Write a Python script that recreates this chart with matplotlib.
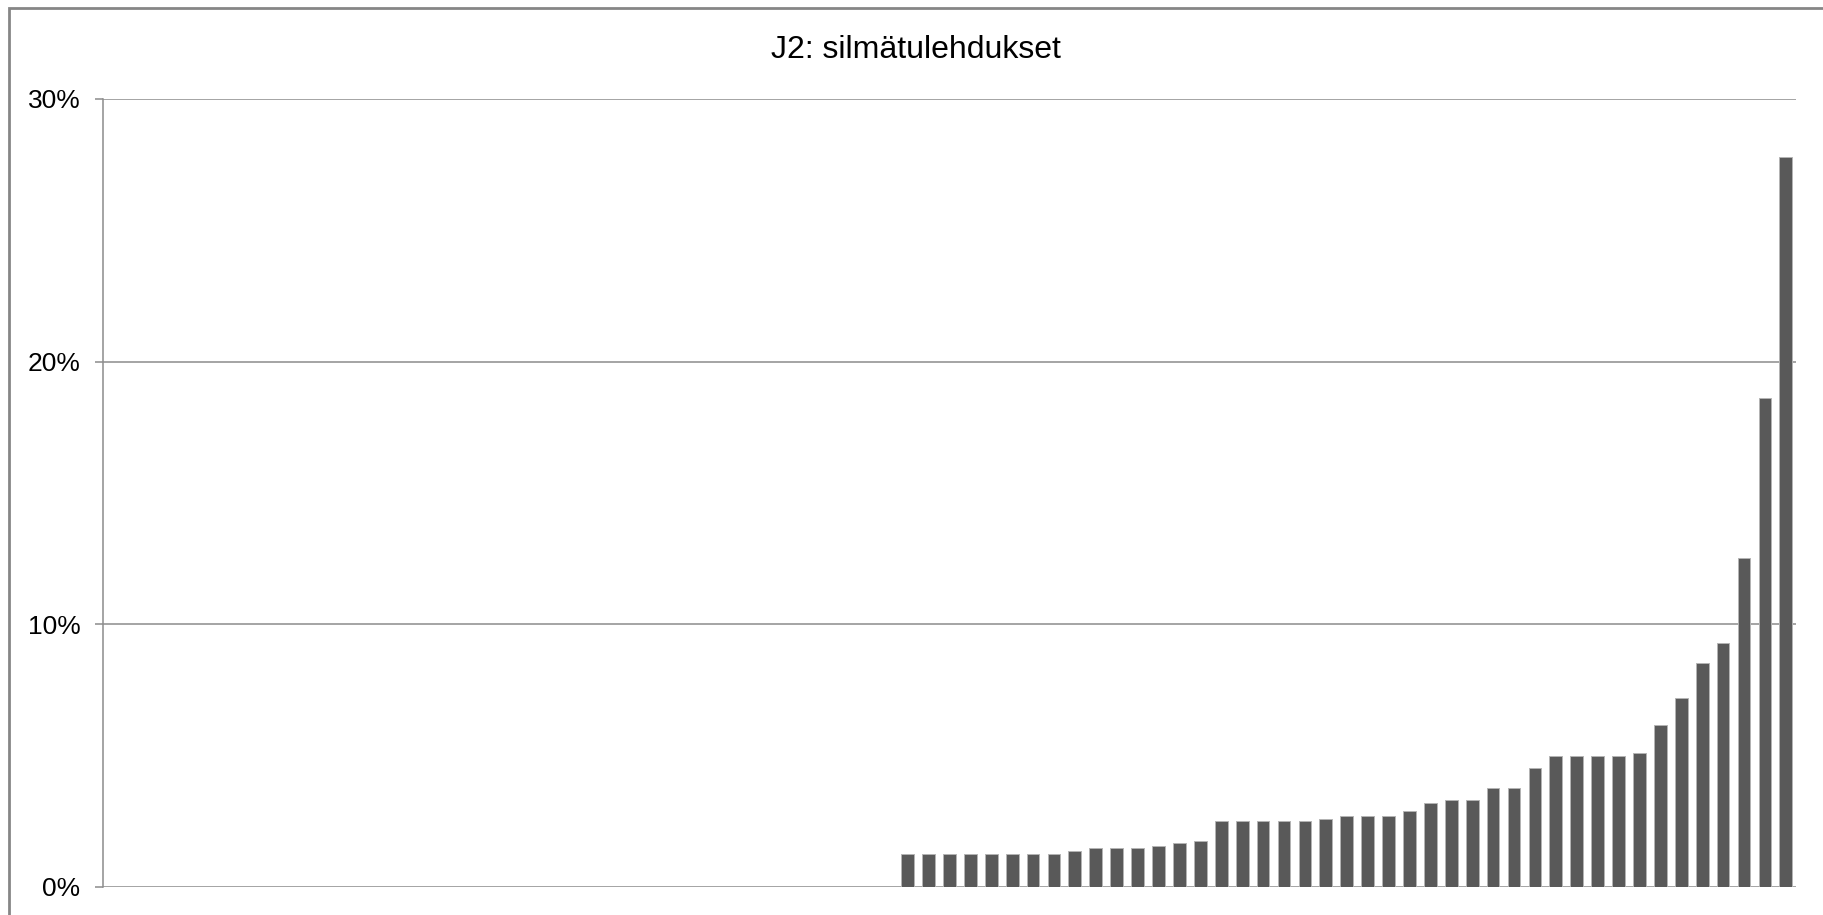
import matplotlib
matplotlib.use("Agg")
import matplotlib.pyplot as plt
from matplotlib.patches import Rectangle
from matplotlib.ticker import FuncFormatter

plt.rcParams['font.family'] = ['Liberation Sans', 'DejaVu Sans']

# Share of eye-ointment prescriptions per unit, sorted ascending (percent)
title = "J2: silmätulehdukset"
n_zero = 38
nonzero_values = [
    1.27, 1.27, 1.27, 1.27, 1.27, 1.27, 1.27, 1.27,
    1.38, 1.47, 1.47, 1.47, 1.57, 1.67, 1.76,
    2.50, 2.50, 2.50, 2.50, 2.50, 2.60, 2.70, 2.70, 2.70,
    2.90, 3.20, 3.30, 3.30, 3.78, 3.78, 4.52,
    5.00, 5.00, 5.00, 5.00, 5.10, 6.18, 7.21, 8.53, 9.30,
    12.52, 18.62, 27.78,
]
values = [0.0] * n_zero + nonzero_values
categories = list(range(1, len(values) + 1))
y_ticks = [0, 10, 20, 30]

W, H, DPI = 1823, 915, 100
fig = plt.figure(figsize=(W / DPI, H / DPI), dpi=DPI)
fig.patch.set_facecolor('white')

# outer chart frame
fig.patches.append(Rectangle((9 / W, -0.05), 1.2, 1 - 8 / H + 0.05,
                             transform=fig.transFigure, fill=False,
                             edgecolor='#868686', linewidth=2.0, zorder=0))

ax = fig.add_axes([102.5 / W, 1 - 887 / H, (1796.3 - 102.5) / W, (887 - 98.8) / H])

x = list(range(len(categories)))
ax.bar(x, values, width=0.61, color='#595959', edgecolor='#b4b4b4',
       linewidth=0.7, zorder=3)

ax.set_xlim(-0.5, len(categories) - 0.5)
ax.set_ylim(0, 30)
ax.set_yticks(y_ticks)
ax.yaxis.set_major_formatter(FuncFormatter(lambda v, p: f"{v:.0f}%"))
ax.set_xticks([])

ax.grid(axis='y', color='#8c8c8c', linewidth=1.1, zorder=1)
for s in ['top', 'right', 'bottom']:
    ax.spines[s].set_visible(False)
ax.spines['left'].set_color('#8c8c8c')
ax.spines['left'].set_linewidth(1.1)
ax.tick_params(axis='y', length=6, width=1.1, color='#8c8c8c', pad=10,
               labelsize=19, labelcolor='black')

fig.text(916 / W, 1 - 50 / H, title, ha='center', va='center',
         fontsize=23, color='black')

fig.savefig('out.png', dpi=DPI)
